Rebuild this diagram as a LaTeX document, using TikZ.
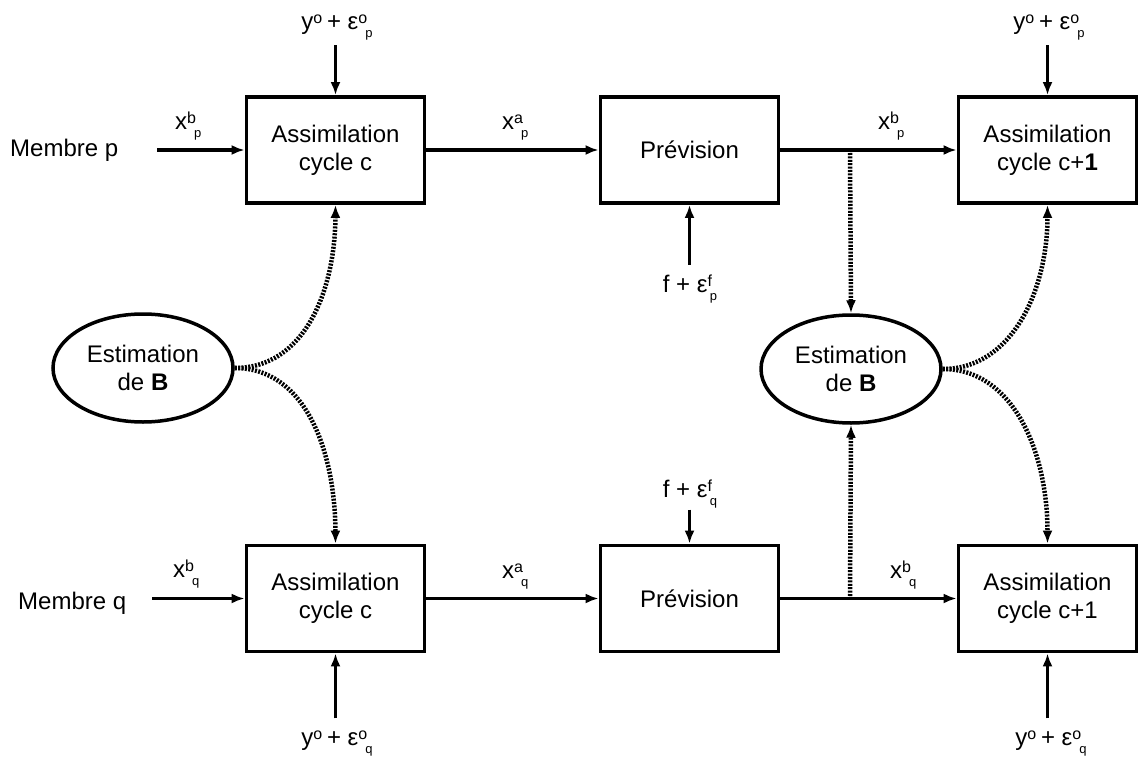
\documentclass[tikz,border=0pt]{standalone}
\usepackage{fontspec}
\setmainfont{Liberation Sans}
\usetikzlibrary{arrows.meta,shapes.geometric}
\newcommand{\SpSb}[2]{\raisebox{6pt}{\fontsize{16}{16}\selectfont #1}\kern-2pt\raisebox{-8pt}{\fontsize{13}{13}\selectfont #2}}
\begin{document}
\begin{tikzpicture}[x=1pt,y=-1pt,
  every node/.style={font=\fontsize{24}{28}\selectfont, inner sep=0pt},
  blk/.style={draw, line width=3.8pt, minimum width=178pt, minimum height=106pt, align=center},
  ell/.style={draw, ellipse, line width=3.5pt, minimum width=180pt, minimum height=108pt, align=center},
  arr/.style={line width=3.5pt, -{Latex[length=13pt,width=10pt]}},
  dotarr/.style={line width=4.5pt, dash pattern=on 2pt off 1.4pt, -{Latex[length=13pt,width=10pt]}},
  lbl/.style={anchor=base}]
\useasboundingbox (0,0) rectangle (1139,762);
% boxes
\node[blk] (a1) at (335.5,150) {Assimilation\\cycle c};
\node[blk] (p1) at (689.5,150) {Prévision};
\node[blk] (a2) at (1047.5,150) {Assimilation\\cycle c+\textbf{1}};
\node[blk] (a3) at (335.5,598.5) {Assimilation\\cycle c};
\node[blk] (p2) at (689.5,598.5) {Prévision};
\node[blk] (a4) at (1047.5,598.5) {Assimilation\\cycle c+1};
\node[ell] (e1) at (143,368) {Estimation\\de \textbf{B}};
\node[ell] (e2) at (851,369) {Estimation\\de \textbf{B}};
% texts
\node[anchor=base west] (mp) at (10,157) {Membre p};
\node[anchor=base west] (mq) at (18,609) {Membre q};
\node[anchor=base west] (lxbp1) at (175,130) {x\SpSb{b}{p}};
\node[anchor=base west] (lxap) at (502,130) {x\SpSb{a}{p}};
\node[anchor=base west] (lxbp2) at (878,130) {x\SpSb{b}{p}};
\node[anchor=base west] (lxbq1) at (173,577) {x\SpSb{b}{q}};
\node[anchor=base west] (lxaq) at (502,578) {x\SpSb{a}{q}};
\node[anchor=base west] (lxbq2) at (890,578) {x\SpSb{b}{q}};
\node[lbl] (ly1) at (337,30) {y\SpSb{o}{} + ε\SpSb{o}{p}};
\node[lbl] (ly2) at (1049,30) {y\SpSb{o}{} + ε\SpSb{o}{p}};
\node[lbl] (ly3) at (337,745) {y\SpSb{o}{} + ε\SpSb{o}{q}};
\node[lbl] (ly4) at (1051,745) {y\SpSb{o}{} + ε\SpSb{o}{q}};
\node[lbl] (lf1) at (690,292) {f + ε\SpSb{f}{p}};
\node[lbl] (lf2) at (690,497) {f + ε\SpSb{f}{q}};
% inputs
\coordinate (in1) at (157,150);
\coordinate (in2) at (152,598.5);
\draw[arr] (in1) -- (a1.west);
\draw[arr] (in2) -- (a3.west);
% main flow
\draw[arr] (a1.east) -- (p1.west);
\draw[arr] (p1.east) -- (a2.west);
\draw[arr] (a3.east) -- (p2.west);
\draw[arr] (p2.east) -- (a4.west);
% observations
\draw[arr] (a1.north) ++(0,-50) -- (a1.north);
\draw[arr] (a2.north) ++(0,-50) -- (a2.north);
\draw[arr] (a3.south) ++(0,65) -- (a3.south);
\draw[arr] (a4.south) ++(0,65) -- (a4.south);
\draw[arr] (p1.south) ++(0,60) -- (p1.south);
\draw[arr] (p2.north) ++(0,-34) -- (p2.north);
% dotted
\coordinate (t1) at (850,153);
\coordinate (b1) at (850,596);
\draw[dotarr] (t1) -- (e2.north);
\draw[dotarr] (b1) -- (e2.south);
\draw[dotarr] (e1.east) .. controls (305,368) and (335,290) .. (a1.south);
\draw[dotarr] (e1.east) .. controls (305,368) and (335,450) .. (a3.north);
\draw[dotarr] (e2.east) .. controls (1012,369) and (1047.5,290) .. (a2.south);
\draw[dotarr] (e2.east) .. controls (1012,369) and (1047.5,450) .. (a4.north);
\end{tikzpicture}
\end{document}
